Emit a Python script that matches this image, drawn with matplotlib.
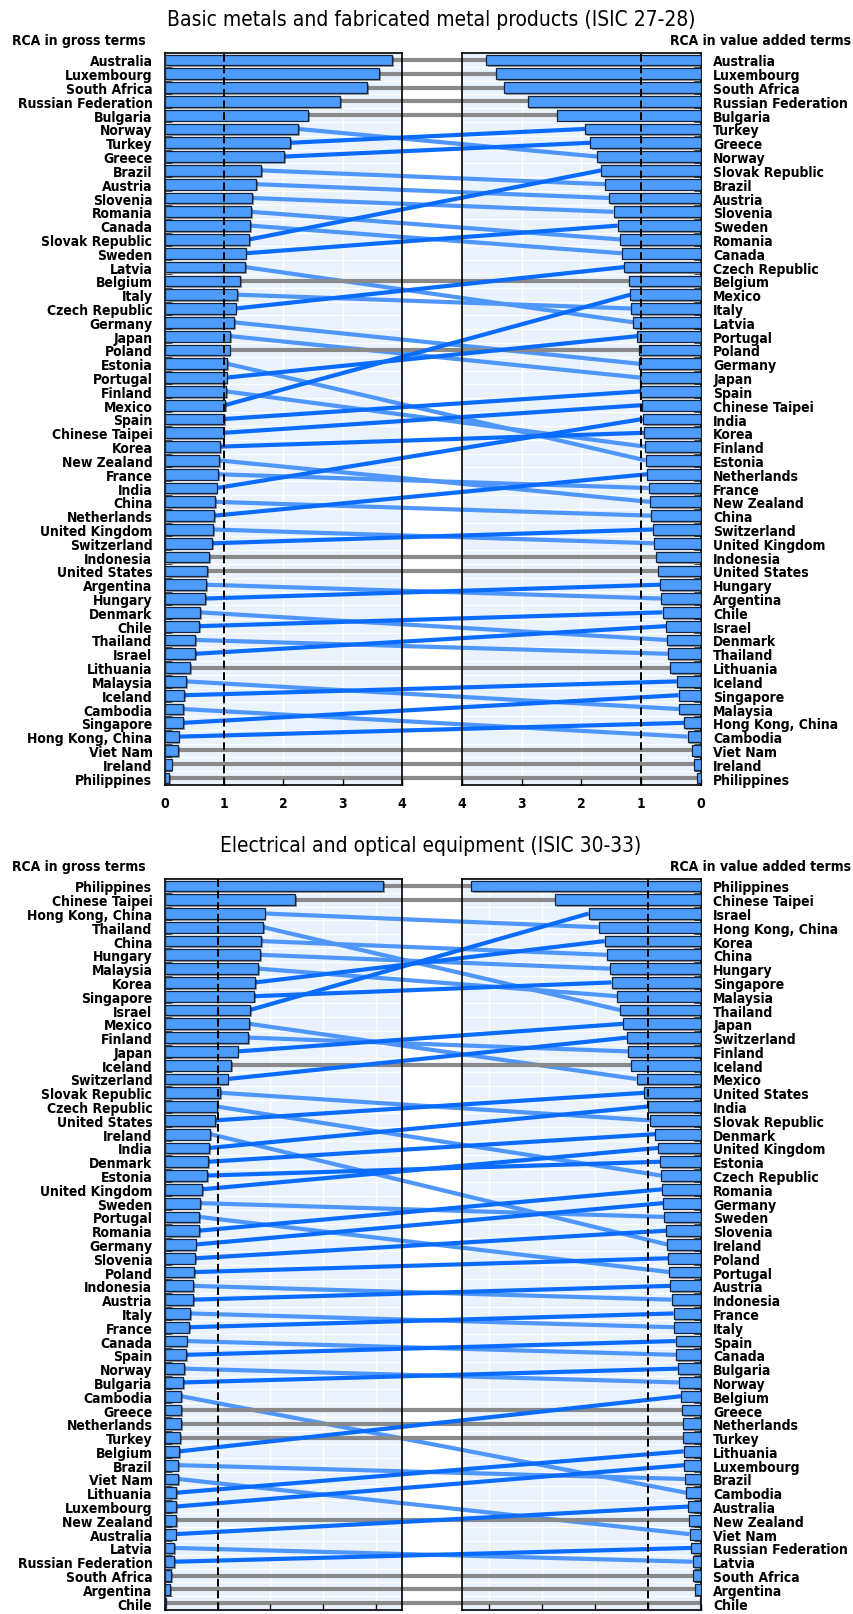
import matplotlib
matplotlib.use("Agg")
import matplotlib.pyplot as plt
import matplotlib.patheffects as pe
from matplotlib.patches import Rectangle
import numpy as np

plt.rcParams["font.family"] = ["DejaVu Sans"]
plt.rcParams["font.stretch"] = "condensed"

# Basic metals and fabricated metal products (ISIC 27-28)
metal_gross_names = [
    "Australia", "Luxembourg", "South Africa", "Russian Federation", "Bulgaria",
    "Norway", "Turkey", "Greece", "Brazil", "Austria", "Slovenia", "Romania",
    "Canada", "Slovak Republic", "Sweden", "Latvia", "Belgium", "Italy",
    "Czech Republic", "Germany", "Japan", "Poland", "Estonia", "Portugal",
    "Finland", "Mexico", "Spain", "Chinese Taipei", "Korea", "New Zealand",
    "France", "India", "China", "Netherlands", "United Kingdom", "Switzerland",
    "Indonesia", "United States", "Argentina", "Hungary", "Denmark", "Chile",
    "Thailand", "Israel", "Lithuania", "Malaysia", "Iceland", "Cambodia",
    "Singapore", "Hong Kong, China", "Viet Nam", "Ireland", "Philippines",
]
metal_gross_vals = [
    3.83, 3.62, 3.41, 2.95, 2.42, 2.25, 2.11, 2.01, 1.62, 1.54, 1.47, 1.45,
    1.44, 1.42, 1.36, 1.35, 1.27, 1.22, 1.19, 1.16, 1.10, 1.09, 1.05, 1.04,
    1.03, 1.01, 1.00, 0.99, 0.93, 0.91, 0.89, 0.87, 0.85, 0.83, 0.81, 0.79,
    0.74, 0.71, 0.69, 0.67, 0.59, 0.58, 0.51, 0.51, 0.43, 0.36, 0.32, 0.30,
    0.30, 0.23, 0.22, 0.11, 0.07,
]
metal_va_names = [
    "Australia", "Luxembourg", "South Africa", "Russian Federation", "Bulgaria",
    "Turkey", "Greece", "Norway", "Slovak Republic", "Brazil", "Austria",
    "Slovenia", "Sweden", "Romania", "Canada", "Czech Republic", "Belgium",
    "Mexico", "Italy", "Latvia", "Portugal", "Poland", "Germany", "Japan",
    "Spain", "Chinese Taipei", "India", "Korea", "Finland", "Estonia",
    "Netherlands", "France", "New Zealand", "China", "Switzerland",
    "United Kingdom", "Indonesia", "United States", "Hungary", "Argentina",
    "Chile", "Israel", "Denmark", "Thailand", "Lithuania", "Iceland",
    "Singapore", "Malaysia", "Hong Kong, China", "Cambodia", "Viet Nam",
    "Ireland", "Philippines",
]
metal_va_vals = [
    3.60, 3.43, 3.30, 2.90, 2.41, 1.94, 1.85, 1.73, 1.67, 1.60, 1.53, 1.46,
    1.39, 1.35, 1.32, 1.28, 1.20, 1.18, 1.16, 1.13, 1.06, 1.04, 1.03, 1.02,
    1.01, 0.99, 0.97, 0.95, 0.93, 0.92, 0.90, 0.87, 0.85, 0.83, 0.80, 0.78,
    0.75, 0.71, 0.68, 0.66, 0.64, 0.58, 0.56, 0.54, 0.51, 0.40, 0.37, 0.36,
    0.28, 0.22, 0.15, 0.12, 0.07,
]

# Electrical and optical equipment (ISIC 30-33)
elec_gross_names = [
    "Philippines", "Chinese Taipei", "Hong Kong, China", "Thailand", "China",
    "Hungary", "Malaysia", "Korea", "Singapore", "Israel", "Mexico", "Finland",
    "Japan", "Iceland", "Switzerland", "Slovak Republic", "Czech Republic",
    "United States", "Ireland", "India", "Denmark", "Estonia",
    "United Kingdom", "Sweden", "Portugal", "Romania", "Germany", "Slovenia",
    "Poland", "Indonesia", "Austria", "Italy", "France", "Canada", "Spain",
    "Norway", "Bulgaria", "Cambodia", "Greece", "Netherlands", "Turkey",
    "Belgium", "Brazil", "Viet Nam", "Lithuania", "Luxembourg", "New Zealand",
    "Australia", "Latvia", "Russian Federation", "South Africa", "Argentina",
    "Chile",
]
elec_gross_vals = [
    4.14, 2.47, 1.89, 1.87, 1.83, 1.81, 1.77, 1.71, 1.69, 1.61, 1.60, 1.58,
    1.38, 1.25, 1.19, 1.05, 0.99, 0.95, 0.86, 0.84, 0.82, 0.80, 0.70, 0.66,
    0.65, 0.64, 0.58, 0.57, 0.56, 0.54, 0.53, 0.47, 0.46, 0.41, 0.40, 0.37,
    0.35, 0.31, 0.31, 0.30, 0.29, 0.27, 0.25, 0.25, 0.21, 0.21, 0.21, 0.20,
    0.18, 0.18, 0.12, 0.10, 0.01,
]
elec_va_names = [
    "Philippines", "Chinese Taipei", "Israel", "Hong Kong, China", "Korea",
    "China", "Hungary", "Singapore", "Malaysia", "Thailand", "Japan",
    "Switzerland", "Finland", "Iceland", "Mexico", "United States", "India",
    "Slovak Republic", "Denmark", "United Kingdom", "Estonia",
    "Czech Republic", "Romania", "Germany", "Sweden", "Slovenia", "Ireland",
    "Poland", "Portugal", "Austria", "Indonesia", "France", "Italy", "Spain",
    "Canada", "Bulgaria", "Norway", "Belgium", "Greece", "Netherlands",
    "Turkey", "Lithuania", "Luxembourg", "Brazil", "Cambodia", "Australia",
    "New Zealand", "Viet Nam", "Russian Federation", "Latvia", "South Africa",
    "Argentina", "Chile",
]
elec_va_vals = [
    4.33, 2.75, 2.11, 1.92, 1.81, 1.77, 1.71, 1.68, 1.57, 1.52, 1.46, 1.39,
    1.37, 1.31, 1.21, 1.06, 1.00, 0.96, 0.86, 0.80, 0.76, 0.75, 0.73, 0.71,
    0.69, 0.65, 0.63, 0.61, 0.59, 0.57, 0.55, 0.51, 0.50, 0.47, 0.46, 0.43,
    0.41, 0.37, 0.35, 0.34, 0.33, 0.32, 0.31, 0.30, 0.27, 0.23, 0.22, 0.21,
    0.18, 0.15, 0.14, 0.11, 0.01,
]

BAR = "#4d9bfb"
EDGE = "#15243c"
BG = "#eaf3fd"
UP = "#0a6cff"
DOWN = "#4f96fb"
SAME = "#8a8a8a"

W, H = 854, 1615
fig = plt.figure(figsize=(W / 100, H / 100), dpi=100)
ov = fig.add_axes([0, 0, 1, 1], zorder=-1)
ov.set_xlim(0, 1)
ov.set_ylim(0, 1)
ov.axis("off")


def to_fig(ax, pt):
    return fig.transFigure.inverted().transform(ax.transData.transform(pt))


def style_axes(ax, names, vals, xmax, right, show_xlabels):
    n = len(names)
    ax.barh(range(n), vals, height=0.78, color=BAR, edgecolor=EDGE, linewidth=0.9,
            zorder=3, path_effects=[pe.SimplePatchShadow(offset=(1.3, -1.3),
                                                         shadow_rgbFace="k", alpha=0.35),
                                    pe.Normal()])
    ax.axvline(1, color="black", linestyle=(0, (4, 2)), linewidth=1.4, zorder=4)
    ax.set_ylim(n - 0.5, -0.5)
    ax.set_xlim((xmax, 0) if right else (0, xmax))
    ax.set_yticks(range(n))
    ax.set_yticklabels(names, fontsize=10, fontweight="bold")
    ax.set_yticks(np.arange(n - 1) + 0.5, minor=True)
    ax.tick_params(axis="y", which="major", length=0, pad=9)
    ax.tick_params(axis="y", which="minor", direction="in", length=5, color="#333333")
    ax.set_xticks(range(0, 5))
    ax.tick_params(axis="x", direction="in", length=4, width=1, pad=8,
                   labelsize=10, labelbottom=show_xlabels)
    for lab in ax.get_xticklabels():
        lab.set_fontweight("bold")
    if right:
        ax.yaxis.tick_right()
    for s in ax.spines.values():
        s.set_linewidth(1.2)
        s.set_color("black")


def draw_panel(top_px, bottom_px, xmax, g_names, g_vals, v_names, v_vals, title,
               show_xlabels):
    y0 = 1 - bottom_px / H
    h = (bottom_px - top_px) / H
    axL = fig.add_axes([165 / W, y0, 237 / W, h], facecolor="none")
    axR = fig.add_axes([462 / W, y0, 238.7 / W, h], facecolor="none")
    style_axes(axL, g_names, g_vals, xmax, False, show_xlabels)
    style_axes(axR, v_names, v_vals, xmax, True, show_xlabels)

    n = len(g_names)
    for ax, right in ((axL, False), (axR, True)):
        bb = ax.get_position()
        ov.add_patch(Rectangle((bb.x0, bb.y0), bb.width, bb.height, color=BG, zorder=0))
        for b in np.arange(n - 1) + 0.5:
            yy = to_fig(ax, (0, b))[1]
            ov.plot([bb.x0, bb.x1], [yy, yy], color="white", lw=0.8, zorder=1)
        for t in range(1, 5):
            if t < xmax:
                xx = to_fig(ax, (t, 0))[0]
                ov.plot([xx, xx], [bb.y0, bb.y1], color="white", lw=1.0, zorder=1)

    for name, gv in zip(g_names, g_vals):
        i = g_names.index(name)
        j = v_names.index(name)
        p1 = to_fig(axL, (gv, i))
        p2 = to_fig(axR, (v_vals[j], j))
        if j < i:
            c, z = UP, 4
        elif j > i:
            c, z = DOWN, 2
        else:
            c, z = SAME, 3
        ov.plot([p1[0], p2[0]], [p1[1], p2[1]], color=c, lw=3, zorder=z,
                solid_capstyle="butt")

    fig.text(431 / W, 1 - (top_px - 28) / H, title, ha="center", va="baseline",
             fontsize=15)
    fig.text(12 / W, 1 - (top_px - 9) / H, "RCA in gross terms", ha="left",
             va="baseline", fontsize=10, fontweight="bold")
    fig.text(851 / W, 1 - (top_px - 9) / H, "RCA in value added terms", ha="right",
             va="baseline", fontsize=10, fontweight="bold")


draw_panel(54, 786, 4.0, metal_gross_names, metal_gross_vals, metal_va_names,
           metal_va_vals, "Basic metals and fabricated metal products (ISIC 27-28)", True)
draw_panel(880, 1611, 4.5, elec_gross_names, elec_gross_vals, elec_va_names,
           elec_va_vals, "Electrical and optical equipment (ISIC 30-33)", False)

fig.savefig("out.png", dpi=100)
